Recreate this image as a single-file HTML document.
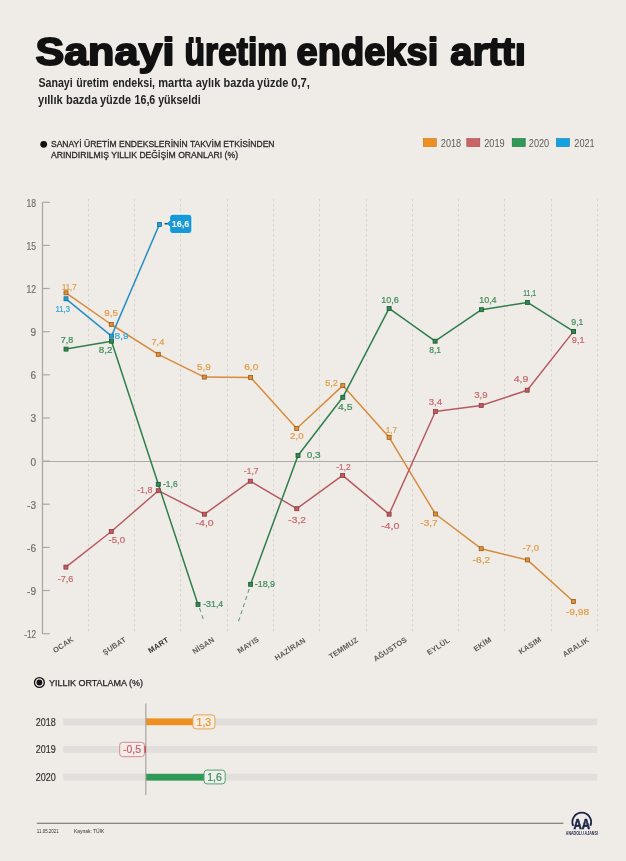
<!DOCTYPE html>
<html><head><meta charset="utf-8">
<style>
*{margin:0;padding:0;box-sizing:border-box}
html,body{width:626px;height:861px;overflow:hidden;background:#efebe7}
body{position:relative;font-family:"Liberation Sans",Arial,sans-serif;color:#1a1a1a}
.abs{position:absolute;white-space:nowrap}
svg text{font-family:"Liberation Sans",Arial,sans-serif}
.yl{font-size:10.1px;fill:#75716d;stroke:#75716d;stroke-width:0.2px}
.dl{font-size:9.2px;font-weight:normal;text-anchor:middle;stroke-width:0.22px;paint-order:stroke}
.ml{font-size:7.5px;font-weight:bold;fill:#5e5a57;text-anchor:middle;letter-spacing:0.2px}
.ml.b{fill:#333030}
</style></head><body>
<svg class="abs" style="left:0;top:0" width="626" height="861" viewBox="0 0 626 861">
<g font-size="10" fill="#555">
<rect x="423.3" y="138.6" width="13" height="8" fill="#ee8f22" stroke="#c77416" stroke-width="0.6"/>
<text x="440.8" y="146.7" textLength="20.4" lengthAdjust="spacingAndGlyphs" style="font-size:10.6px" fill="#5d5a57">2018</text>
<rect x="466.8" y="138.6" width="13" height="8" fill="#cc6466" stroke="#9c4a4c" stroke-width="0.6"/>
<text x="484.2" y="146.7" textLength="20.4" lengthAdjust="spacingAndGlyphs" style="font-size:10.6px" fill="#5d5a57">2019</text>
<rect x="512.2" y="138.6" width="13" height="8" fill="#2f9a57" stroke="#1f6e3d" stroke-width="0.6"/>
<text x="528.8" y="146.7" textLength="20.4" lengthAdjust="spacingAndGlyphs" style="font-size:10.6px" fill="#5d5a57">2020</text>
<rect x="556.4" y="138.6" width="13" height="8" fill="#10a2e2" stroke="#0c7aac" stroke-width="0.6"/>
<text x="574.3" y="146.7" textLength="20.4" lengthAdjust="spacingAndGlyphs" style="font-size:10.6px" fill="#5d5a57">2021</text>
</g>
<text x="35.4" y="65.2" textLength="139.0" lengthAdjust="spacingAndGlyphs" style="font-size:39.6px;font-weight:bold;stroke:#111;stroke-width:1.9px;stroke-linejoin:round" fill="#111">Sanayi</text>
<text x="184.6" y="65.2" textLength="102.6" lengthAdjust="spacingAndGlyphs" style="font-size:39.6px;font-weight:bold;stroke:#111;stroke-width:1.9px;stroke-linejoin:round" fill="#111">üretim</text>
<text x="296.5" y="65.2" textLength="141.8" lengthAdjust="spacingAndGlyphs" style="font-size:39.6px;font-weight:bold;stroke:#111;stroke-width:1.9px;stroke-linejoin:round" fill="#111">endeksi</text>
<text x="450.2" y="65.2" textLength="75.8" lengthAdjust="spacingAndGlyphs" style="font-size:39.6px;font-weight:bold;stroke:#111;stroke-width:1.9px;stroke-linejoin:round" fill="#111">arttı</text>
<text x="38.4" y="87.3" textLength="34.3" lengthAdjust="spacingAndGlyphs" style="font-size:11.9px;font-weight:bold" fill="#242424">Sanayi</text>
<text x="76.2" y="87.3" textLength="32.6" lengthAdjust="spacingAndGlyphs" style="font-size:11.9px;font-weight:bold" fill="#242424">üretim</text>
<text x="112.4" y="87.3" textLength="42.7" lengthAdjust="spacingAndGlyphs" style="font-size:11.9px;font-weight:bold" fill="#242424">endeksi,</text>
<text x="158.2" y="87.3" textLength="33.9" lengthAdjust="spacingAndGlyphs" style="font-size:11.9px;font-weight:bold" fill="#242424">martta</text>
<text x="195.7" y="87.3" textLength="24.6" lengthAdjust="spacingAndGlyphs" style="font-size:11.9px;font-weight:bold" fill="#242424">aylık</text>
<text x="223.5" y="87.3" textLength="31.1" lengthAdjust="spacingAndGlyphs" style="font-size:11.9px;font-weight:bold" fill="#242424">bazda</text>
<text x="257.1" y="87.3" textLength="31.3" lengthAdjust="spacingAndGlyphs" style="font-size:11.9px;font-weight:bold" fill="#242424">yüzde</text>
<text x="291.2" y="87.3" textLength="18.8" lengthAdjust="spacingAndGlyphs" style="font-size:11.9px;font-weight:bold" fill="#242424">0,7,</text>
<text x="38.0" y="103.6" textLength="24.7" lengthAdjust="spacingAndGlyphs" style="font-size:11.9px;font-weight:bold" fill="#242424">yıllık</text>
<text x="65.9" y="103.6" textLength="31.4" lengthAdjust="spacingAndGlyphs" style="font-size:11.9px;font-weight:bold" fill="#242424">bazda</text>
<text x="100.0" y="103.6" textLength="31.1" lengthAdjust="spacingAndGlyphs" style="font-size:11.9px;font-weight:bold" fill="#242424">yüzde</text>
<text x="134.5" y="103.6" textLength="20.8" lengthAdjust="spacingAndGlyphs" style="font-size:11.9px;font-weight:bold" fill="#242424">16,6</text>
<text x="158.2" y="103.6" textLength="42.4" lengthAdjust="spacingAndGlyphs" style="font-size:11.9px;font-weight:bold" fill="#242424">yükseldi</text>
<circle cx="43.7" cy="144.3" r="3.4" fill="#111"/>
<text x="51" y="147.3" textLength="223.5" lengthAdjust="spacingAndGlyphs" style="font-size:9.3px;stroke:#2a2a2a;stroke-width:0.3px" fill="#2a2a2a">SANAYİ ÜRETİM ENDEKSLERİNİN TAKVİM ETKİSİNDEN</text>
<text x="51" y="158.3" textLength="187" lengthAdjust="spacingAndGlyphs" style="font-size:9.3px;stroke:#2a2a2a;stroke-width:0.3px" fill="#2a2a2a">ARINDIRILMIŞ YILLIK DEĞİŞİM ORANLARI (%)</text>
<line x1="88.5" y1="199" x2="88.5" y2="632" stroke="#d8d4d0" stroke-width="1" stroke-dasharray="2.5 2.5"/>
<line x1="134.5" y1="199" x2="134.5" y2="632" stroke="#d8d4d0" stroke-width="1" stroke-dasharray="2.5 2.5"/>
<line x1="180.5" y1="199" x2="180.5" y2="632" stroke="#d8d4d0" stroke-width="1" stroke-dasharray="2.5 2.5"/>
<line x1="227.5" y1="199" x2="227.5" y2="632" stroke="#d8d4d0" stroke-width="1" stroke-dasharray="2.5 2.5"/>
<line x1="273.5" y1="199" x2="273.5" y2="632" stroke="#d8d4d0" stroke-width="1" stroke-dasharray="2.5 2.5"/>
<line x1="319.5" y1="199" x2="319.5" y2="632" stroke="#d8d4d0" stroke-width="1" stroke-dasharray="2.5 2.5"/>
<line x1="366.5" y1="199" x2="366.5" y2="632" stroke="#d8d4d0" stroke-width="1" stroke-dasharray="2.5 2.5"/>
<line x1="412.5" y1="199" x2="412.5" y2="632" stroke="#d8d4d0" stroke-width="1" stroke-dasharray="2.5 2.5"/>
<line x1="458.5" y1="199" x2="458.5" y2="632" stroke="#d8d4d0" stroke-width="1" stroke-dasharray="2.5 2.5"/>
<line x1="504.5" y1="199" x2="504.5" y2="632" stroke="#d8d4d0" stroke-width="1" stroke-dasharray="2.5 2.5"/>
<line x1="551.5" y1="199" x2="551.5" y2="632" stroke="#d8d4d0" stroke-width="1" stroke-dasharray="2.5 2.5"/>
<line x1="597.5" y1="199" x2="597.5" y2="632" stroke="#d8d4d0" stroke-width="1" stroke-dasharray="2.5 2.5"/>
<line x1="42.5" y1="461.5" x2="597.5" y2="461.5" stroke="#aeaaa6" stroke-width="1.1"/>
<line x1="42.5" y1="202.3" x2="42.5" y2="633.9" stroke="#aba7a3" stroke-width="1.3"/>
<line x1="42.5" y1="202.3" x2="49.7" y2="202.3" stroke="#aba7a3" stroke-width="1.2"/>
<text x="36.1" y="206.7" text-anchor="end" textLength="9.6" lengthAdjust="spacingAndGlyphs" class="yl">18</text>
<line x1="42.5" y1="245.4" x2="49.7" y2="245.4" stroke="#aba7a3" stroke-width="1.2"/>
<text x="36.1" y="249.8" text-anchor="end" textLength="9.6" lengthAdjust="spacingAndGlyphs" class="yl">15</text>
<line x1="42.5" y1="288.5" x2="49.7" y2="288.5" stroke="#aba7a3" stroke-width="1.2"/>
<text x="36.1" y="292.9" text-anchor="end" textLength="9.6" lengthAdjust="spacingAndGlyphs" class="yl">12</text>
<line x1="42.5" y1="331.7" x2="49.7" y2="331.7" stroke="#aba7a3" stroke-width="1.2"/>
<text x="36.1" y="336.1" text-anchor="end" class="yl">9</text>
<line x1="42.5" y1="374.8" x2="49.7" y2="374.8" stroke="#aba7a3" stroke-width="1.2"/>
<text x="36.1" y="379.2" text-anchor="end" class="yl">6</text>
<line x1="42.5" y1="418.0" x2="49.7" y2="418.0" stroke="#aba7a3" stroke-width="1.2"/>
<text x="36.1" y="422.4" text-anchor="end" class="yl">3</text>
<line x1="42.5" y1="461.1" x2="49.7" y2="461.1" stroke="#aba7a3" stroke-width="1.2"/>
<text x="36.1" y="465.5" text-anchor="end" class="yl">0</text>
<line x1="42.5" y1="504.2" x2="49.7" y2="504.2" stroke="#aba7a3" stroke-width="1.2"/>
<text x="36.1" y="508.6" text-anchor="end" class="yl">-3</text>
<line x1="42.5" y1="547.4" x2="49.7" y2="547.4" stroke="#aba7a3" stroke-width="1.2"/>
<text x="36.1" y="551.8" text-anchor="end" class="yl">-6</text>
<line x1="42.5" y1="590.5" x2="49.7" y2="590.5" stroke="#aba7a3" stroke-width="1.2"/>
<text x="36.1" y="594.9" text-anchor="end" class="yl">-9</text>
<line x1="42.5" y1="633.7" x2="49.7" y2="633.7" stroke="#aba7a3" stroke-width="1.2"/>
<text x="36.1" y="638.1" text-anchor="end" textLength="11.8" lengthAdjust="spacingAndGlyphs" class="yl">-12</text>
<polyline points="66,292.8 111.3,324.5 158.3,354.3 204.3,377.1 250.6,377.4 296.7,428.5 342.8,385.6 389.1,437.3 435.4,514 481.2,548.7 527.4,559.9 573.4,601.5" fill="none" stroke="#d88b3b" stroke-width="1.5" stroke-linejoin="round"/>
<polyline points="65.9,567.1 111.3,531.5 158.3,490.7 204.5,514.2 250.3,481.2 296.8,508.7 342.6,475.4 389.1,514.2 435.4,411.5 481.2,405.5 527.2,390.2 573.6,331.4" fill="none" stroke="#b65c61" stroke-width="1.5" stroke-linejoin="round"/>
<polyline points="66,349.1 111.5,341.2 158.3,484.3 198,604.4" fill="none" stroke="#2f7f4c" stroke-width="1.5" stroke-linejoin="round"/>
<polyline points="250.6,584.3 298,455.5 342.8,397.3 389.1,308.4 435.1,341.2 481.5,309.7 527.5,302.4 573.6,331.4" fill="none" stroke="#2f7f4c" stroke-width="1.5" stroke-linejoin="round"/>
<line x1="199.5" y1="608" x2="204.2" y2="622" stroke="#4f9468" stroke-width="1" stroke-dasharray="4 3.5"/>
<line x1="249.2" y1="589" x2="238.3" y2="622" stroke="#4f9468" stroke-width="1" stroke-dasharray="4 3.5"/>
<polyline points="66,298.8 111.5,336.1 159.4,224.4" fill="none" stroke="#2790c0" stroke-width="1.5" stroke-linejoin="round"/>
<rect x="64.0" y="290.8" width="4.0" height="4.0" fill="#e08f33" stroke="#9a5a1c" stroke-width="0.8"/>
<rect x="109.3" y="322.5" width="4.0" height="4.0" fill="#e08f33" stroke="#9a5a1c" stroke-width="0.8"/>
<rect x="156.3" y="352.3" width="4.0" height="4.0" fill="#e08f33" stroke="#9a5a1c" stroke-width="0.8"/>
<rect x="202.3" y="375.1" width="4.0" height="4.0" fill="#e08f33" stroke="#9a5a1c" stroke-width="0.8"/>
<rect x="248.6" y="375.4" width="4.0" height="4.0" fill="#e08f33" stroke="#9a5a1c" stroke-width="0.8"/>
<rect x="294.7" y="426.5" width="4.0" height="4.0" fill="#e08f33" stroke="#9a5a1c" stroke-width="0.8"/>
<rect x="340.8" y="383.6" width="4.0" height="4.0" fill="#e08f33" stroke="#9a5a1c" stroke-width="0.8"/>
<rect x="387.1" y="435.3" width="4.0" height="4.0" fill="#e08f33" stroke="#9a5a1c" stroke-width="0.8"/>
<rect x="433.4" y="512.0" width="4.0" height="4.0" fill="#e08f33" stroke="#9a5a1c" stroke-width="0.8"/>
<rect x="479.2" y="546.7" width="4.0" height="4.0" fill="#e08f33" stroke="#9a5a1c" stroke-width="0.8"/>
<rect x="525.4" y="557.9" width="4.0" height="4.0" fill="#e08f33" stroke="#9a5a1c" stroke-width="0.8"/>
<rect x="571.4" y="599.5" width="4.0" height="4.0" fill="#e08f33" stroke="#9a5a1c" stroke-width="0.8"/>
<rect x="63.9" y="565.1" width="4.0" height="4.0" fill="#c45a60" stroke="#8a3b3f" stroke-width="0.8"/>
<rect x="109.3" y="529.5" width="4.0" height="4.0" fill="#c45a60" stroke="#8a3b3f" stroke-width="0.8"/>
<rect x="156.3" y="488.7" width="4.0" height="4.0" fill="#c45a60" stroke="#8a3b3f" stroke-width="0.8"/>
<rect x="202.5" y="512.2" width="4.0" height="4.0" fill="#c45a60" stroke="#8a3b3f" stroke-width="0.8"/>
<rect x="248.3" y="479.2" width="4.0" height="4.0" fill="#c45a60" stroke="#8a3b3f" stroke-width="0.8"/>
<rect x="294.8" y="506.7" width="4.0" height="4.0" fill="#c45a60" stroke="#8a3b3f" stroke-width="0.8"/>
<rect x="340.6" y="473.4" width="4.0" height="4.0" fill="#c45a60" stroke="#8a3b3f" stroke-width="0.8"/>
<rect x="387.1" y="512.2" width="4.0" height="4.0" fill="#c45a60" stroke="#8a3b3f" stroke-width="0.8"/>
<rect x="433.4" y="409.5" width="4.0" height="4.0" fill="#c45a60" stroke="#8a3b3f" stroke-width="0.8"/>
<rect x="479.2" y="403.5" width="4.0" height="4.0" fill="#c45a60" stroke="#8a3b3f" stroke-width="0.8"/>
<rect x="525.2" y="388.2" width="4.0" height="4.0" fill="#c45a60" stroke="#8a3b3f" stroke-width="0.8"/>
<rect x="571.6" y="329.4" width="4.0" height="4.0" fill="#c45a60" stroke="#8a3b3f" stroke-width="0.8"/>
<rect x="64.0" y="296.8" width="4.0" height="4.0" fill="#1d9fd8" stroke="#146e98" stroke-width="0.8"/>
<rect x="109.5" y="334.1" width="4.0" height="4.0" fill="#1d9fd8" stroke="#146e98" stroke-width="0.8"/>
<rect x="64.0" y="347.1" width="4.0" height="4.0" fill="#2f8a4f" stroke="#1c5a33" stroke-width="0.8"/>
<rect x="109.5" y="339.2" width="4.0" height="4.0" fill="#2f8a4f" stroke="#1c5a33" stroke-width="0.8"/>
<rect x="156.3" y="482.3" width="4.0" height="4.0" fill="#2f8a4f" stroke="#1c5a33" stroke-width="0.8"/>
<rect x="196.0" y="602.4" width="4.0" height="4.0" fill="#2f8a4f" stroke="#1c5a33" stroke-width="0.8"/>
<rect x="248.6" y="582.3" width="4.0" height="4.0" fill="#2f8a4f" stroke="#1c5a33" stroke-width="0.8"/>
<rect x="296.0" y="453.5" width="4.0" height="4.0" fill="#2f8a4f" stroke="#1c5a33" stroke-width="0.8"/>
<rect x="340.8" y="395.3" width="4.0" height="4.0" fill="#2f8a4f" stroke="#1c5a33" stroke-width="0.8"/>
<rect x="387.1" y="306.4" width="4.0" height="4.0" fill="#2f8a4f" stroke="#1c5a33" stroke-width="0.8"/>
<rect x="433.1" y="339.2" width="4.0" height="4.0" fill="#2f8a4f" stroke="#1c5a33" stroke-width="0.8"/>
<rect x="479.5" y="307.7" width="4.0" height="4.0" fill="#2f8a4f" stroke="#1c5a33" stroke-width="0.8"/>
<rect x="525.5" y="300.4" width="4.0" height="4.0" fill="#2f8a4f" stroke="#1c5a33" stroke-width="0.8"/>
<rect x="571.6" y="329.4" width="4.0" height="4.0" fill="#2f8a4f" stroke="#1c5a33" stroke-width="0.8"/>
<rect x="157.4" y="222.4" width="4.0" height="4.0" fill="#1d9fd8" stroke="#146e98" stroke-width="0.8"/>
<text x="69.2" y="289.6" class="dl" textLength="14.5" lengthAdjust="spacingAndGlyphs" fill="#df9c47" stroke="#df9c47">11,7</text>
<text x="111.1" y="315.9" class="dl" textLength="13.7" lengthAdjust="spacingAndGlyphs" fill="#df9c47" stroke="#df9c47">9,5</text>
<text x="157.9" y="344.8" class="dl" textLength="12.8" lengthAdjust="spacingAndGlyphs" fill="#df9c47" stroke="#df9c47">7,4</text>
<text x="203.9" y="370.2" class="dl" textLength="13.7" lengthAdjust="spacingAndGlyphs" fill="#df9c47" stroke="#df9c47">5,9</text>
<text x="251.3" y="370.4" class="dl" textLength="14.3" lengthAdjust="spacingAndGlyphs" fill="#df9c47" stroke="#df9c47">6,0</text>
<text x="296.8" y="439.2" class="dl" textLength="13.4" lengthAdjust="spacingAndGlyphs" fill="#df9c47" stroke="#df9c47">2,0</text>
<text x="331.5" y="385.9" class="dl" textLength="12.7" lengthAdjust="spacingAndGlyphs" fill="#df9c47" stroke="#df9c47">5,2</text>
<text x="391.4" y="432.6" class="dl" textLength="11.2" lengthAdjust="spacingAndGlyphs" fill="#df9c47" stroke="#df9c47">1,7</text>
<text x="429.0" y="526.3" class="dl" textLength="17.3" lengthAdjust="spacingAndGlyphs" fill="#df9c47" stroke="#df9c47">-3,7</text>
<text x="481.4" y="562.8" class="dl" textLength="17.6" lengthAdjust="spacingAndGlyphs" fill="#df9c47" stroke="#df9c47">-6,2</text>
<text x="530.8" y="550.8" class="dl" textLength="16.4" lengthAdjust="spacingAndGlyphs" fill="#df9c47" stroke="#df9c47">-7,0</text>
<text x="577.5" y="615.3" class="dl" textLength="23.3" lengthAdjust="spacingAndGlyphs" fill="#df9c47" stroke="#df9c47">-9,98</text>
<text x="65.6" y="581.8" class="dl" textLength="15.7" lengthAdjust="spacingAndGlyphs" fill="#c56a6e" stroke="#c56a6e">-7,6</text>
<text x="116.8" y="543.4" class="dl" textLength="16.6" lengthAdjust="spacingAndGlyphs" fill="#c56a6e" stroke="#c56a6e">-5,0</text>
<text x="144.8" y="492.7" class="dl" textLength="15.2" lengthAdjust="spacingAndGlyphs" fill="#c56a6e" stroke="#c56a6e">-1,8</text>
<text x="204.6" y="526.2" class="dl" textLength="18.2" lengthAdjust="spacingAndGlyphs" fill="#c56a6e" stroke="#c56a6e">-4,0</text>
<text x="251.2" y="473.9" class="dl" textLength="14.8" lengthAdjust="spacingAndGlyphs" fill="#c56a6e" stroke="#c56a6e">-1,7</text>
<text x="297.1" y="522.6" class="dl" textLength="17.7" lengthAdjust="spacingAndGlyphs" fill="#c56a6e" stroke="#c56a6e">-3,2</text>
<text x="343.5" y="469.9" class="dl" textLength="14.6" lengthAdjust="spacingAndGlyphs" fill="#c56a6e" stroke="#c56a6e">-1,2</text>
<text x="390.2" y="528.5" class="dl" textLength="18.4" lengthAdjust="spacingAndGlyphs" fill="#c56a6e" stroke="#c56a6e">-4,0</text>
<text x="435.4" y="405.1" class="dl" textLength="13.3" lengthAdjust="spacingAndGlyphs" fill="#c56a6e" stroke="#c56a6e">3,4</text>
<text x="480.9" y="397.9" class="dl" textLength="13.4" lengthAdjust="spacingAndGlyphs" fill="#c56a6e" stroke="#c56a6e">3,9</text>
<text x="521.0" y="382.4" class="dl" textLength="14.6" lengthAdjust="spacingAndGlyphs" fill="#c56a6e" stroke="#c56a6e">4,9</text>
<text x="578.2" y="342.9" class="dl" textLength="12.7" lengthAdjust="spacingAndGlyphs" fill="#c56a6e" stroke="#c56a6e">9,1</text>
<text x="66.9" y="342.6" class="dl" textLength="12.5" lengthAdjust="spacingAndGlyphs" fill="#3f8d5b" stroke="#3f8d5b">7,8</text>
<text x="105.6" y="353.2" class="dl" textLength="13.6" lengthAdjust="spacingAndGlyphs" fill="#3f8d5b" stroke="#3f8d5b">8,2</text>
<text x="170.3" y="487.2" class="dl" textLength="14.6" lengthAdjust="spacingAndGlyphs" fill="#3f8d5b" stroke="#3f8d5b">-1,6</text>
<text x="213.2" y="607.4" class="dl" textLength="20.1" lengthAdjust="spacingAndGlyphs" fill="#3f8d5b" stroke="#3f8d5b">-31,4</text>
<text x="264.9" y="587.0" class="dl" textLength="20.4" lengthAdjust="spacingAndGlyphs" fill="#3f8d5b" stroke="#3f8d5b">-18,9</text>
<text x="313.6" y="457.6" class="dl" textLength="13.9" lengthAdjust="spacingAndGlyphs" fill="#3f8d5b" stroke="#3f8d5b">0,3</text>
<text x="345.2" y="409.6" class="dl" textLength="14.4" lengthAdjust="spacingAndGlyphs" fill="#3f8d5b" stroke="#3f8d5b">4,5</text>
<text x="390.0" y="302.8" class="dl" textLength="17.6" lengthAdjust="spacingAndGlyphs" fill="#3f8d5b" stroke="#3f8d5b">10,6</text>
<text x="435.2" y="353.1" class="dl" textLength="11.8" lengthAdjust="spacingAndGlyphs" fill="#3f8d5b" stroke="#3f8d5b">8,1</text>
<text x="487.9" y="303.4" class="dl" textLength="17.4" lengthAdjust="spacingAndGlyphs" fill="#3f8d5b" stroke="#3f8d5b">10,4</text>
<text x="529.7" y="295.7" class="dl" textLength="12.8" lengthAdjust="spacingAndGlyphs" fill="#3f8d5b" stroke="#3f8d5b">11,1</text>
<text x="577.4" y="325.4" class="dl" textLength="12.1" lengthAdjust="spacingAndGlyphs" fill="#3f8d5b" stroke="#3f8d5b">9,1</text>
<text x="62.8" y="312.2" class="dl" textLength="14.5" lengthAdjust="spacingAndGlyphs" fill="#33a6da" stroke="#33a6da">11,3</text>
<text x="121.6" y="339.2" class="dl" textLength="14.0" lengthAdjust="spacingAndGlyphs" fill="#33a6da" stroke="#33a6da">8,9</text>
<path d="M172.8 214.2 H188.7 Q191.9 214.2 191.9 217.4 V230.4 Q191.9 233.6 188.7 233.6 H172.8 Q169.6 233.6 169.6 230.4 V226.6 L165.6 223.7 L169.6 220.8 V217.4 Q169.6 214.2 172.8 214.2 Z" fill="#1699d6" stroke="#ffffff" stroke-width="0.9"/>
<line x1="164.6" y1="223.7" x2="167.4" y2="223.7" stroke="#2e4a5c" stroke-width="1.6"/>
<text x="180.5" y="226.6" class="dl" fill="#ffffff" textLength="17.6" lengthAdjust="spacingAndGlyphs" style="font-size:9.2px;font-weight:bold;stroke-width:0">16,6</text>
<text transform="translate(63.2,644.8) rotate(-33)" x="0" y="2.6" class="ml">OCAK</text>
<text transform="translate(114.4,645.8) rotate(-33)" x="0" y="2.6" class="ml">ŞUBAT</text>
<text transform="translate(158.3,645.1) rotate(-33)" x="0" y="2.6" class="ml b">MART</text>
<text transform="translate(203.3,645.5) rotate(-33)" x="0" y="2.6" class="ml">NİSAN</text>
<text transform="translate(248.2,645.1) rotate(-33)" x="0" y="2.6" class="ml">MAYIS</text>
<text transform="translate(290,649) rotate(-33)" x="0" y="2.6" class="ml">HAZİRAN</text>
<text transform="translate(343.5,648) rotate(-33)" x="0" y="2.6" class="ml">TEMMUZ</text>
<text transform="translate(390.1,649.2) rotate(-33)" x="0" y="2.6" class="ml">AĞUSTOS</text>
<text transform="translate(438.4,646.2) rotate(-33)" x="0" y="2.6" class="ml">EYLÜL</text>
<text transform="translate(482.5,644.2) rotate(-33)" x="0" y="2.6" class="ml">EKİM</text>
<text transform="translate(530,645.5) rotate(-33)" x="0" y="2.6" class="ml">KASIM</text>
<text transform="translate(575.8,647) rotate(-33)" x="0" y="2.6" class="ml">ARALIK</text>
<!-- bottom section -->
<circle cx="39.4" cy="682.5" r="4.9" fill="none" stroke="#111" stroke-width="1.3"/>
<circle cx="39.4" cy="682.5" r="2.9" fill="#111"/>
<text x="49" y="686.3" textLength="94" lengthAdjust="spacingAndGlyphs" style="font-size:9.4px;stroke:#222;stroke-width:0.25px" fill="#222">YILLIK ORTALAMA (%)</text>
<text x="35.8" y="725.6" textLength="20" lengthAdjust="spacingAndGlyphs" style="font-size:10.6px;stroke:#333;stroke-width:0.2px" fill="#333">2018</text>
<text x="35.8" y="753.2" textLength="20" lengthAdjust="spacingAndGlyphs" style="font-size:10.6px;stroke:#333;stroke-width:0.2px" fill="#333">2019</text>
<text x="35.8" y="781" textLength="20" lengthAdjust="spacingAndGlyphs" style="font-size:10.6px;stroke:#333;stroke-width:0.2px" fill="#333">2020</text>
<rect x="63.3" y="718.4" width="533.9" height="6.8" fill="#e2dedb"/>
<rect x="63.3" y="746" width="533.9" height="6.8" fill="#e2dedb"/>
<rect x="63.3" y="773.8" width="533.9" height="6.8" fill="#e2dedb"/>
<rect x="146" y="718.4" width="47" height="6.8" fill="#ee8f22"/>
<rect x="146" y="773.8" width="58" height="6.8" fill="#2f9a57"/>
<line x1="145.8" y1="703.5" x2="145.8" y2="794.9" stroke="#a9a5a1" stroke-width="1.2"/>
<rect x="192.9" y="714.9" width="22" height="14" rx="3" fill="#f3ede5" stroke="#eaa24f" stroke-width="1"/>
<text x="203.9" y="725.5" class="dl" style="font-size:10.5px" fill="#e8972f" stroke="#e8972f">1,3</text>
<rect x="119.7" y="742.3" width="24.7" height="14.4" rx="3" fill="#f3ece9" stroke="#d48a8d" stroke-width="1"/>
<rect x="144.4" y="746" width="1.6" height="6.8" fill="#c5595d"/>
<text x="132" y="753" class="dl" style="font-size:10.5px" fill="#c9646a" stroke="#c9646a">-0,5</text>
<rect x="204" y="770.1" width="21.2" height="13.8" rx="3" fill="#eef0ea" stroke="#55a271" stroke-width="1"/>
<text x="214.6" y="780.7" class="dl" style="font-size:10.5px" fill="#3a8c57" stroke="#3a8c57">1,6</text>
<!-- footer -->
<line x1="36.8" y1="823.2" x2="563.4" y2="823.2" stroke="#6a6560" stroke-width="1.1"/>
<text x="36.8" y="832.8" textLength="22" lengthAdjust="spacingAndGlyphs" style="font-size:5.7px" fill="#333">11.05.2021</text>
<text x="73.9" y="832.8" textLength="30.5" lengthAdjust="spacingAndGlyphs" style="font-size:5.7px" fill="#333">Kaynak: TÜİK</text>
<path d="M573.2 825.8 A9.35 9.35 0 1 1 590.3 825.8" fill="none" stroke="#1c2447" stroke-width="1.8"/>
<text x="581.8" y="828.5" text-anchor="middle" textLength="16.6" lengthAdjust="spacingAndGlyphs" style="font-size:14px;font-weight:bold;stroke:#1c2447;stroke-width:0.6px" fill="#1c2447">AA</text>
<text x="565.8" y="834.9" textLength="32" lengthAdjust="spacingAndGlyphs" style="font-size:4.7px;font-weight:bold" fill="#1c2447">ANADOLU AJANSI</text>
</svg>
</body></html>
